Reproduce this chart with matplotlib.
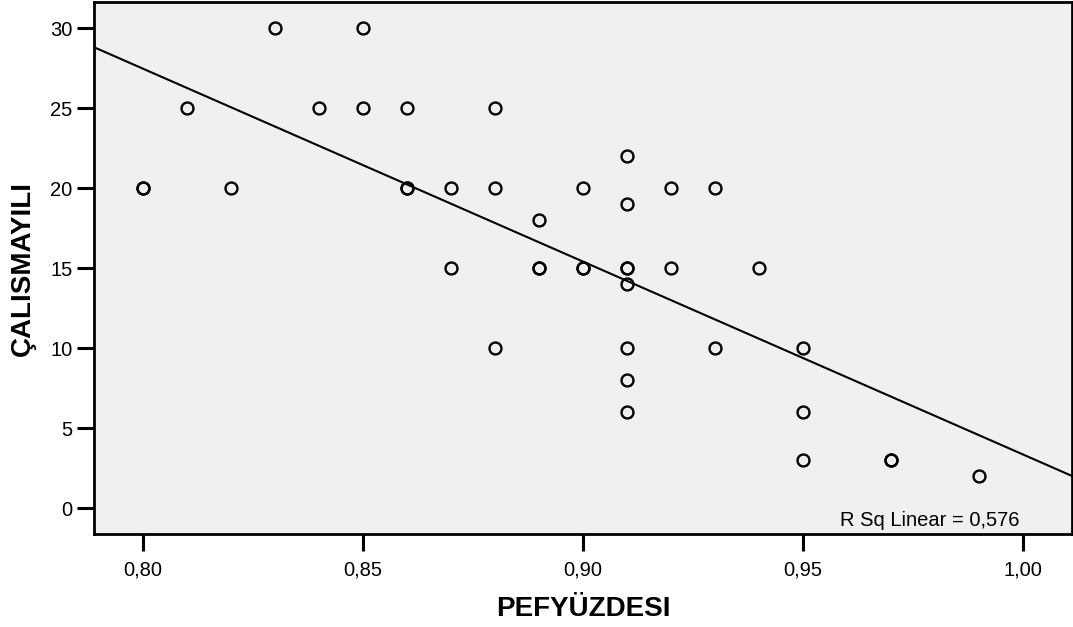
import numpy as np
import matplotlib
matplotlib.use('Agg')
import matplotlib.pyplot as plt

plt.rcParams['font.family'] = ['Liberation Sans', 'DejaVu Sans']

# Dados (PEFYÜZDESI x ÇALISMAYILI)
pef = [0.80, 0.80, 0.81, 0.82, 0.83, 0.84, 0.85, 0.85, 0.86, 0.86, 0.86,
       0.87, 0.87, 0.88, 0.88, 0.88, 0.89, 0.89, 0.89, 0.90, 0.90, 0.90,
       0.91, 0.91, 0.91, 0.91, 0.91, 0.91, 0.91, 0.91, 0.92, 0.92,
       0.93, 0.93, 0.94, 0.95, 0.95, 0.95, 0.97, 0.97, 0.99]
calisma = [20, 20, 25, 20, 30, 25, 30, 25, 25, 20, 20,
           20, 15, 25, 20, 10, 18, 15, 15, 20, 15, 15,
           22, 19, 15, 15, 14, 10, 8, 6, 20, 15,
           20, 10, 15, 10, 6, 3, 3, 3, 2]

xticks = [0.80, 0.85, 0.90, 0.95, 1.00]
xtick_labels = ['0,80', '0,85', '0,90', '0,95', '1,00']
yticks = [0, 5, 10, 15, 20, 25, 30]
r2_text = 'R Sq Linear = 0,576'

x = np.array(pef)
y = np.array(calisma)
b, a = np.polyfit(x, y, 1)

fig = plt.figure(figsize=(10.73, 6.27), dpi=100)
ax = fig.add_axes([94/1073, 1 - 534/627, (1072-94)/1073, (534-2)/627])
ax.set_facecolor('#f0f0f0')

xlim = (0.7889, 1.0111)
ax.set_xlim(xlim)
ax.set_ylim(-1.625, 31.625)

xx = np.array(xlim)
ax.plot(xx, a + b*xx, color='black', lw=1.5, zorder=2)
ax.plot(x, y, 'o', mfc='none', mec='black', ms=8.6, mew=1.7, zorder=3)

ax.set_xticks(xticks)
ax.set_xticklabels(xtick_labels)
ax.set_yticks(yticks)
ax.tick_params(direction='out', length=12, width=2.2, labelsize=14.5)
ax.tick_params(axis='x', pad=7)
ax.tick_params(axis='y', pad=3.5)
for s in ax.spines.values():
    s.set_linewidth(2)

ax.set_xlabel('PEFYÜZDESI', fontsize=20, fontweight='bold', labelpad=12)
ax.set_ylabel('ÇALISMAYILI', fontsize=20, fontweight='bold', labelpad=10)
ax.text(0.946, 0.015, r2_text, transform=ax.transAxes, ha='right', va='baseline', fontsize=14.5)

plt.savefig('out.png', dpi=100)
